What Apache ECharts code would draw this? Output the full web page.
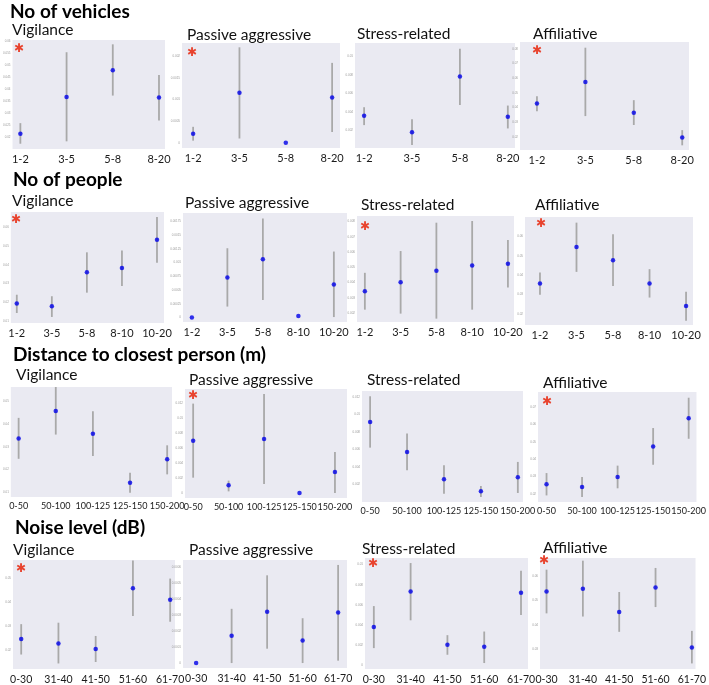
<!DOCTYPE html>
<html>
<head>
<meta charset="utf-8">
<script src="https://cdn.jsdelivr.net/npm/echarts@6/dist/echarts.min.js"></script>
<style>
html, body { margin: 0; padding: 0; background: #fff; }
#chart { width: 709px; height: 685px; }
</style>
</head>
<body>
<div id="chart"></div>
<script>
// category labels
const vehicleCats = ['1-2', '3-5', '5-8', '8-20'];
const peopleCats = ['1-2', '3-5', '5-8', '8-10', '10-20'];
const distanceCats = ['0-50', '50-100', '100-125', '125-150', '150-200'];
const noiseCats = ['0-30', '31-40', '41-50', '51-60', '61-70'];

// [mean, lower, upper] for each category
const vehVigilance = [[0.0214, 0.0172, 0.0258], [0.0367, 0.0182, 0.0554], [0.0479, 0.0373, 0.0587], [0.0365, 0.0269, 0.0459]];
const vehPassive = [[0.00021, 0.00005, 0.00037], [0.00116, 0.0001, 0.00221], [0.0, 0.0, 0.0], [0.00105, 0.00025, 0.00185]];
const vehStress = [[0.00357, 0.00257, 0.0045], [0.00179, 0.00043, 0.00321], [0.00782, 0.00475, 0.01082], [0.00346, 0.00221, 0.00468]];
const vehAffiliative = [[0.0427, 0.0375, 0.0477], [0.0575, 0.0341, 0.0809], [0.0364, 0.028, 0.045], [0.0195, 0.0141, 0.0245]];

const pplVigilance = [[0.0194, 0.0144, 0.0241], [0.018, 0.0123, 0.0233], [0.036, 0.0252, 0.0466], [0.0383, 0.0287, 0.0476], [0.0533, 0.0411, 0.0653]];
const pplPassive = [[0.0, 0.0, 0.0], [0.00073, 0.0002, 0.00126], [0.00106, 0.00032, 0.0018], [0.00003, 0.00003, 0.00003], [0.0006, 0.00001, 0.0012]];
const pplStress = [[0.00343, 0.00222, 0.00464], [0.00402, 0.00196, 0.00607], [0.00477, 0.00163, 0.00793], [0.00512, 0.00222, 0.00804], [0.00523, 0.00367, 0.00679]];
const pplAffiliative = [[0.0357, 0.0299, 0.0414], [0.0545, 0.0417, 0.067], [0.0477, 0.0344, 0.061], [0.0357, 0.0285, 0.0431], [0.0241, 0.0166, 0.0315]];

const disVigilance = [[0.0336, 0.0247, 0.0426], [0.0456, 0.0353, 0.0561], [0.0357, 0.0259, 0.0455], [0.0142, 0.0099, 0.0186], [0.0245, 0.0179, 0.0306]];
const disPassive = [[0.00702, 0.00206, 0.012], [0.00103, 0.00022, 0.00166], [0.00725, 0.00121, 0.01329], [0.0, 0.0, 0.0], [0.00282, 0.0, 0.0055]];
const disStress = [[0.00915, 0.00622, 0.01208], [0.00573, 0.00363, 0.00782], [0.00261, 0.00097, 0.0042], [0.00124, 0.00059, 0.00185], [0.00284, 0.00105, 0.00459]];
const disAffiliative = [[0.0254, 0.019, 0.0319], [0.0238, 0.0181, 0.0296], [0.0296, 0.0231, 0.0362], [0.0473, 0.0367, 0.0579], [0.0635, 0.0517, 0.0754]];

const noiVigilance = [[0.0246, 0.0182, 0.0308], [0.0228, 0.0145, 0.0314], [0.0205, 0.0151, 0.0259], [0.0457, 0.0342, 0.0572], [0.0409, 0.0318, 0.0497]];
const noiPassive = [[0.0, 0.0, 0.0], [0.000171, 0.0, 0.00034], [0.000321, 0.00009, 0.00055], [0.000142, 0.0, 0.000281], [0.000317, 0.000015, 0.000615]];
const noiStress = [[0.00384, 0.00174, 0.0059], [0.00734, 0.00449, 0.01016], [0.00207, 0.00108, 0.00302], [0.00187, 0.00026, 0.00338], [0.00721, 0.00502, 0.00941]];
const noiAffiliative = [[0.0537, 0.0447, 0.0627], [0.0548, 0.0434, 0.0664], [0.0453, 0.0371, 0.0535], [0.0554, 0.0473, 0.0634], [0.0307, 0.0241, 0.0375]];

// y tick labels (tiny in the original)
const vehVigTicks = [0.020, 0.025, 0.030, 0.035, 0.040, 0.045, 0.050, 0.055, 0.060];
const vehPasTicks = [0.0000, 0.0005, 0.0010, 0.0015, 0.0020];
const vehStrTicks = [0.000, 0.002, 0.004, 0.006, 0.008, 0.010];
const vehAffTicks = [0.02, 0.03, 0.04, 0.05, 0.06, 0.07, 0.08];
const pplVigTicks = [0.01, 0.02, 0.03, 0.04, 0.05, 0.06];
const pplPasTicks = [0, 0.00025, 0.0005, 0.00075, 0.001, 0.00125, 0.0015, 0.00175];
const pplStrTicks = [0.002, 0.003, 0.004, 0.005, 0.006, 0.007, 0.008];
const pplAffTicks = [0.02, 0.03, 0.04, 0.05, 0.06];
const disVigTicks = [0.01, 0.02, 0.03, 0.04, 0.05];
const disPasTicks = [0, 0.002, 0.004, 0.006, 0.008, 0.010, 0.012];
const disStrTicks = [0.002, 0.004, 0.006, 0.008, 0.010, 0.012];
const disAffTicks = [0.02, 0.03, 0.04, 0.05, 0.06, 0.07];
const noiVigTicks = [0.02, 0.03, 0.04, 0.05];
const noiPasTicks = [0, 0.0001, 0.0002, 0.0003, 0.0004, 0.0005, 0.0006];
const noiStrTicks = [0.000, 0.002, 0.004, 0.006, 0.008, 0.010];
const noiAffTicks = [0.03, 0.04, 0.05, 0.06];

const headings = ['No of vehicles', 'No of people', 'Distance to closest person (m)', 'Noise level (dB)'];
const behaviours = ['Vigilance', 'Passive aggressive', 'Stress-related', 'Affiliative'];

// panel layout: grid [left, top, width, height], x range, y range, label size
const panels = [
  { cats: vehicleCats, data: vehVigilance, ticks: vehVigTicks, grid: [10, 40, 155, 109], x: [-0.17, 3.13], y: [0.015, 0.0605], fs: 11, star: true },
  { cats: vehicleCats, data: vehPassive, ticks: vehPasTicks, grid: [182, 43, 158, 105], x: [-0.24, 3.17], y: [-0.00012, 0.00231], fs: 11, star: true },
  { cats: vehicleCats, data: vehStress, ticks: vehStrTicks, grid: [355, 43, 160, 105], x: [-0.19, 3.15], y: [0.0001, 0.01143], fs: 11 },
  { cats: vehicleCats, data: vehAffiliative, ticks: vehAffTicks, grid: [520, 42, 169, 108], x: [-0.35, 3.14], y: [0.0109, 0.0848], fs: 11, star: true },

  { cats: peopleCats, data: pplVigilance, ticks: pplVigTicks, grid: [10, 212, 154, 111], x: [-0.17, 4.2], y: [0.0091, 0.068], fs: 11, star: true },
  { cats: peopleCats, data: pplPassive, ticks: pplPasTicks, grid: [183, 213, 164, 109], x: [-0.25, 4.37], y: [-0.00008, 0.0019], fs: 11 },
  { cats: peopleCats, data: pplStress, ticks: pplStrTicks, grid: [357, 216, 157, 106], x: [-0.22, 4.17], y: [0.00141, 0.00837], fs: 11, star: true },
  { cats: peopleCats, data: pplAffiliative, ticks: pplAffTicks, grid: [525, 217, 168, 108], x: [-0.41, 4.19], y: [0.0144, 0.0699], fs: 11, star: true },

  { cats: distanceCats, data: disVigilance, ticks: disVigTicks, grid: [10, 387, 162, 110], x: [-0.21, 4.13], y: [0.008, 0.0561], fs: 9 },
  { cats: distanceCats, data: disPassive, ticks: disPasTicks, grid: [185, 389, 162, 109], x: [-0.23, 4.34], y: [-0.00067, 0.01396], fs: 9, star: true },
  { cats: distanceCats, data: disStress, ticks: disStrTicks, grid: [362, 391, 161, 111], x: [-0.22, 4.14], y: [0.00002, 0.01268], fs: 9 },
  { cats: distanceCats, data: disAffiliative, ticks: disAffTicks, grid: [538, 392, 164, 110], x: [-0.24, 4.22], y: [0.0152, 0.0787], fs: 9, star: true },

  { cats: noiseCats, data: noiVigilance, ticks: noiVigTicks, grid: [13, 560, 162, 112], x: [-0.22, 4.13], y: [0.0122, 0.0574], fs: 10.5, star: true },
  { cats: noiseCats, data: noiPassive, ticks: noiPasTicks, grid: [183, 560, 164, 108], x: [-0.37, 4.25], y: [-0.000031, 0.000646], fs: 10.5 },
  { cats: noiseCats, data: noiStress, ticks: noiStrTicks, grid: [365, 558, 163, 112], x: [-0.24, 4.19], y: [-0.00033, 0.01066], fs: 10.5, star: true },
  { cats: noiseCats, data: noiAffiliative, ticks: noiAffTicks, grid: [540, 558, 163, 112], x: [-0.18, 4.1], y: [0.0218, 0.0675], fs: 10.5, star: true }
];

// heading / subtitle positions [x, y(center)]
const headingPos = [[10, 12], [13, 180], [13, 355], [15, 528]];
const subtitlePos = [
  [[12, 30], [187, 35], [357, 34], [533, 34]],
  [[12, 201], [185, 203], [361, 205], [535, 205]],
  [[16, 375], [189, 380], [367, 380], [543, 383]],
  [[13, 550], [189, 550], [362, 549], [543, 548]]
];
const starOffset = [
  [9, 9], [10, 10], null, [17, 9],
  [6, 8], null, [8, 11], [16, 7],
  null, [8, 7], null, [9, 10],
  [8, 9], null, [8, 6], [4, 3]
];

const FONT = 'Lato';
const grids = [], xAxes = [], yAxes = [], series = [], graphics = [];

panels.forEach(function (p, i) {
  grids.push({
    left: p.grid[0], top: p.grid[1], width: p.grid[2], height: p.grid[3],
    show: true, backgroundColor: '#eaeaf2', borderWidth: 0
  });
  const idx = p.cats.map(function (c, k) { return k; });
  xAxes.push({
    gridIndex: i, type: 'value', min: p.x[0], max: p.x[1],
    axisLine: { show: false }, axisTick: { show: false }, splitLine: { show: false },
    axisLabel: {
      customValues: idx, margin: 5, fontSize: p.fs, color: '#1a1a1a', fontFamily: FONT,
      hideOverlap: false, showMinLabel: true, showMaxLabel: true,
      formatter: function (v) { return p.cats[Math.round(v)]; }
    }
  });
  yAxes.push({
    gridIndex: i, type: 'value', min: p.y[0], max: p.y[1],
    axisLine: { show: false }, axisTick: { show: false }, splitLine: { show: false },
    axisLabel: { customValues: p.ticks, margin: 2, fontSize: 3, color: '#9a9a9a', hideOverlap: false }
  });
  series.push({
    type: 'custom', xAxisIndex: i, yAxisIndex: i,
    data: p.data.map(function (d, k) { return [k, d[1], d[2]]; }),
    renderItem: function (params, api) {
      const a = api.coord([api.value(0), api.value(1)]);
      const b = api.coord([api.value(0), api.value(2)]);
      return {
        type: 'line',
        shape: { x1: a[0], y1: a[1], x2: b[0], y2: b[1] },
        style: { stroke: '#a9a9a9', lineWidth: 1.8 }
      };
    },
    silent: true
  });
  series.push({
    type: 'scatter', xAxisIndex: i, yAxisIndex: i,
    data: p.data.map(function (d, k) { return [k, d[0]]; }),
    symbolSize: 4.5, itemStyle: { color: '#0000e8' }, z: 5
  });
  if (p.star) {
    graphics.push({
      type: 'text', x: p.grid[0] + starOffset[i][0], y: p.grid[1] + starOffset[i][1],
      style: { text: '\u2731', fontSize: 12, fill: '#e8432e', fontFamily: 'DejaVu Sans', align: 'center', verticalAlign: 'middle' }
    });
  }
});

headings.forEach(function (h, r) {
  graphics.push({
    type: 'text', x: headingPos[r][0], y: headingPos[r][1],
    style: { text: h, fontSize: 19, fontWeight: 'bold', fill: '#000', fontFamily: FONT, verticalAlign: 'middle' }
  });
  behaviours.forEach(function (b, c) {
    graphics.push({
      type: 'text', x: subtitlePos[r][c][0], y: subtitlePos[r][c][1],
      style: { text: b, fontSize: 15.5, fill: '#111', fontFamily: FONT, verticalAlign: 'middle' }
    });
  });
});

const chart = echarts.init(document.getElementById('chart'));
chart.setOption({
  backgroundColor: '#fff',
  animation: false,
  grid: grids,
  xAxis: xAxes,
  yAxis: yAxes,
  series: series,
  graphic: graphics
});
</script>
</body>
</html>
